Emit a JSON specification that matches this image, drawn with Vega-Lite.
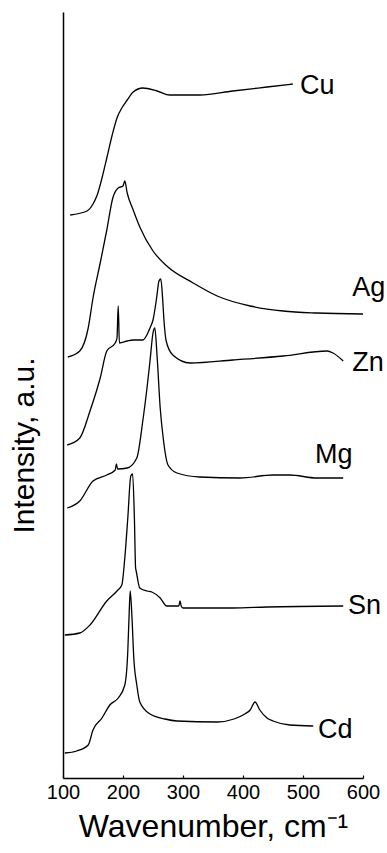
{
  "$schema": "https://vega.github.io/schema/vega-lite/v6.json",
  "width": 300,
  "height": 766,
  "autosize": {"type": "none"},
  "padding": {"left": 63, "top": 12, "right": 24, "bottom": 75},
  "background": "white",
  "config": {
    "view": {"stroke": null},
    "font": "Liberation Sans",
    "axis": {"grid": false, "domainColor": "black", "domainWidth": 1.5, "tickColor": "black", "labelColor": "black", "titleColor": "black", "titleFontWeight": "normal", "labelFont": "Liberation Sans", "titleFont": "Liberation Sans"}
  },
  "datasets": {
    "spectra": [
      {"s": "Cu", "w": 112, "i": 563}, {"s": "Cu", "w": 140, "i": 567}, {"s": "Cu", "w": 150, "i": 574}, {"s": "Cu", "w": 157, "i": 583}, {"s": "Cu", "w": 165, "i": 600}, {"s": "Cu", "w": 173, "i": 620}, {"s": "Cu", "w": 182, "i": 643}, {"s": "Cu", "w": 190, "i": 660}, {"s": "Cu", "w": 198, "i": 670}, {"s": "Cu", "w": 207, "i": 678}, {"s": "Cu", "w": 217, "i": 686}, {"s": "Cu", "w": 233, "i": 690}, {"s": "Cu", "w": 257, "i": 687}, {"s": "Cu", "w": 278, "i": 683}, {"s": "Cu", "w": 328, "i": 683}, {"s": "Cu", "w": 383, "i": 687}, {"s": "Cu", "w": 440, "i": 691}, {"s": "Cu", "w": 483, "i": 694},
      {"s": "Ag", "w": 108, "i": 421}, {"s": "Ag", "w": 128, "i": 427}, {"s": "Ag", "w": 142, "i": 450}, {"s": "Ag", "w": 150, "i": 480}, {"s": "Ag", "w": 162, "i": 515}, {"s": "Ag", "w": 173, "i": 548}, {"s": "Ag", "w": 183, "i": 580}, {"s": "Ag", "w": 192, "i": 590}, {"s": "Ag", "w": 200, "i": 592}, {"s": "Ag", "w": 203, "i": 597}, {"s": "Ag", "w": 207, "i": 585}, {"s": "Ag", "w": 217, "i": 568}, {"s": "Ag", "w": 228, "i": 551}, {"s": "Ag", "w": 250, "i": 527}, {"s": "Ag", "w": 273, "i": 512}, {"s": "Ag", "w": 317, "i": 495}, {"s": "Ag", "w": 357, "i": 482}, {"s": "Ag", "w": 412, "i": 472}, {"s": "Ag", "w": 467, "i": 467}, {"s": "Ag", "w": 523, "i": 465}, {"s": "Ag", "w": 600, "i": 464},
      {"s": "Zn", "w": 107, "i": 333}, {"s": "Zn", "w": 128, "i": 340}, {"s": "Zn", "w": 145, "i": 367}, {"s": "Zn", "w": 162, "i": 400}, {"s": "Zn", "w": 173, "i": 427}, {"s": "Zn", "w": 187, "i": 435}, {"s": "Zn", "w": 190, "i": 440}, {"s": "Zn", "w": 192, "i": 472}, {"s": "Zn", "w": 194, "i": 435}, {"s": "Zn", "w": 207, "i": 437}, {"s": "Zn", "w": 217, "i": 438}, {"s": "Zn", "w": 233, "i": 438}, {"s": "Zn", "w": 245, "i": 450}, {"s": "Zn", "w": 250, "i": 458}, {"s": "Zn", "w": 256, "i": 480}, {"s": "Zn", "w": 260, "i": 497}, {"s": "Zn", "w": 263, "i": 499}, {"s": "Zn", "w": 266, "i": 480}, {"s": "Zn", "w": 268, "i": 460}, {"s": "Zn", "w": 272, "i": 437}, {"s": "Zn", "w": 283, "i": 423}, {"s": "Zn", "w": 312, "i": 415}, {"s": "Zn", "w": 383, "i": 418}, {"s": "Zn", "w": 467, "i": 422}, {"s": "Zn", "w": 540, "i": 427}, {"s": "Zn", "w": 550, "i": 425}, {"s": "Zn", "w": 567, "i": 417},
      {"s": "Mg", "w": 107, "i": 270}, {"s": "Mg", "w": 128, "i": 277}, {"s": "Mg", "w": 150, "i": 297}, {"s": "Mg", "w": 173, "i": 303}, {"s": "Mg", "w": 187, "i": 308}, {"s": "Mg", "w": 189, "i": 314}, {"s": "Mg", "w": 191, "i": 309}, {"s": "Mg", "w": 207, "i": 310}, {"s": "Mg", "w": 223, "i": 320}, {"s": "Mg", "w": 233, "i": 357}, {"s": "Mg", "w": 240, "i": 390}, {"s": "Mg", "w": 245, "i": 417}, {"s": "Mg", "w": 250, "i": 445}, {"s": "Mg", "w": 253, "i": 450}, {"s": "Mg", "w": 257, "i": 420}, {"s": "Mg", "w": 262, "i": 370}, {"s": "Mg", "w": 267, "i": 340}, {"s": "Mg", "w": 275, "i": 313}, {"s": "Mg", "w": 290, "i": 305}, {"s": "Mg", "w": 328, "i": 301}, {"s": "Mg", "w": 395, "i": 300}, {"s": "Mg", "w": 450, "i": 303}, {"s": "Mg", "w": 478, "i": 303}, {"s": "Mg", "w": 523, "i": 300}, {"s": "Mg", "w": 567, "i": 300},
      {"s": "Sn", "w": 103, "i": 143}, {"s": "Sn", "w": 128, "i": 145}, {"s": "Sn", "w": 145, "i": 153}, {"s": "Sn", "w": 173, "i": 177}, {"s": "Sn", "w": 190, "i": 187}, {"s": "Sn", "w": 198, "i": 193}, {"s": "Sn", "w": 203, "i": 220}, {"s": "Sn", "w": 208, "i": 260}, {"s": "Sn", "w": 213, "i": 302}, {"s": "Sn", "w": 216, "i": 304}, {"s": "Sn", "w": 219, "i": 260}, {"s": "Sn", "w": 221, "i": 210}, {"s": "Sn", "w": 222, "i": 207}, {"s": "Sn", "w": 228, "i": 190}, {"s": "Sn", "w": 240, "i": 187}, {"s": "Sn", "w": 248, "i": 186}, {"s": "Sn", "w": 262, "i": 180}, {"s": "Sn", "w": 273, "i": 172}, {"s": "Sn", "w": 293, "i": 172}, {"s": "Sn", "w": 295, "i": 177}, {"s": "Sn", "w": 297, "i": 172}, {"s": "Sn", "w": 300, "i": 170}, {"s": "Sn", "w": 383, "i": 170}, {"s": "Sn", "w": 440, "i": 171}, {"s": "Sn", "w": 567, "i": 172},
      {"s": "Cd", "w": 103, "i": 25}, {"s": "Cd", "w": 123, "i": 27}, {"s": "Cd", "w": 142, "i": 33}, {"s": "Cd", "w": 150, "i": 48}, {"s": "Cd", "w": 165, "i": 60}, {"s": "Cd", "w": 178, "i": 73}, {"s": "Cd", "w": 192, "i": 80}, {"s": "Cd", "w": 203, "i": 93}, {"s": "Cd", "w": 208, "i": 127}, {"s": "Cd", "w": 210, "i": 160}, {"s": "Cd", "w": 212, "i": 187}, {"s": "Cd", "w": 215, "i": 160}, {"s": "Cd", "w": 218, "i": 120}, {"s": "Cd", "w": 223, "i": 93}, {"s": "Cd", "w": 228, "i": 76}, {"s": "Cd", "w": 245, "i": 64}, {"s": "Cd", "w": 270, "i": 59}, {"s": "Cd", "w": 290, "i": 57}, {"s": "Cd", "w": 357, "i": 56}, {"s": "Cd", "w": 385, "i": 59}, {"s": "Cd", "w": 403, "i": 64}, {"s": "Cd", "w": 412, "i": 68}, {"s": "Cd", "w": 420, "i": 76}, {"s": "Cd", "w": 428, "i": 68}, {"s": "Cd", "w": 440, "i": 60}, {"s": "Cd", "w": 450, "i": 57}, {"s": "Cd", "w": 478, "i": 53}, {"s": "Cd", "w": 517, "i": 52}
    ],
    "labels": [
      {"s": "Cu", "w": 495, "i": 692},
      {"s": "Ag", "w": 582, "i": 490},
      {"s": "Zn", "w": 582, "i": 415},
      {"s": "Mg", "w": 520, "i": 323},
      {"s": "Sn", "w": 575, "i": 172},
      {"s": "Cd", "w": 525, "i": 48}
    ]
  },
  "layer": [
    {
      "data": {"name": "spectra"},
      "mark": {"type": "line", "color": "black", "strokeWidth": 1.3, "clip": false, "interpolate": "monotone"},
      "encoding": {
        "x": {"field": "w", "type": "quantitative", "scale": {"domain": [100, 600], "nice": false, "zero": false},
          "axis": {"title": "Wavenumber, cm⁻¹", "values": [100, 150, 200, 250, 300, 350, 400, 450, 500, 550, 600], "labelExpr": "datum.value % 100 === 0 ? datum.label : ''", "tickSize": -3, "tickWidth": 1.2, "labelFontSize": 20, "labelPadding": 7, "titleFontSize": 32, "titlePadding": 9, "labelFlush": false, "labelOverlap": false}},
        "y": {"field": "i", "type": "quantitative", "scale": {"domain": [0, 766], "nice": false},
          "axis": {"title": "Intensity, a.u.", "ticks": false, "labels": false, "titleFontSize": 30, "titlePadding": 24, "titleY": 433}},
        "detail": {"field": "s", "type": "nominal"}
      }
    },
    {
      "data": {"name": "labels"},
      "mark": {"type": "text", "align": "left", "baseline": "middle", "fontSize": 27, "color": "black", "font": "Liberation Sans"},
      "encoding": {
        "x": {"field": "w", "type": "quantitative"},
        "y": {"field": "i", "type": "quantitative"},
        "text": {"field": "s", "type": "nominal"}
      }
    }
  ]
}
